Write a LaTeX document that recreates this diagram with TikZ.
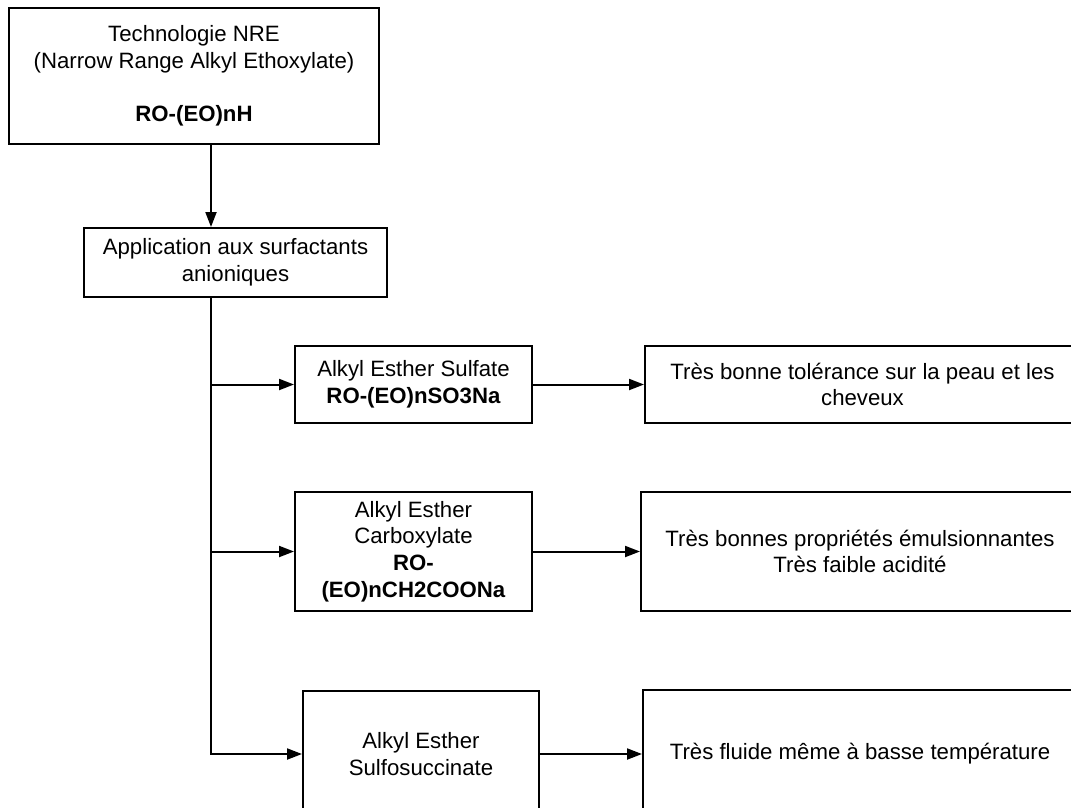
\documentclass[tikz,border=0pt]{standalone}
\usepackage{fontspec}
\setmainfont{Liberation Sans}
\usepackage{tikz}
\usetikzlibrary{arrows.meta}

\begin{document}
\begin{tikzpicture}[
    x=1pt, y=-1pt,
    box/.style={draw,line width=2pt,align=center,inner sep=0pt,
      font=\fontsize{22.2}{26.7}\selectfont},
    link/.style={line width=2pt,-{Triangle[length=15pt,width=11pt]}}
    ]
    \useasboundingbox (0,0) rectangle (1071,807);
    \clip (0,0) rectangle (1071,807);
    \node[box,minimum width=370,minimum height=136] (nre) at (194,76)
      {Technologie NRE\\(Narrow Range Alkyl Ethoxylate)\\~\\\textbf{RO-(EO)nH}};
    \node[box,minimum width=303,minimum height=69] (appl) at (235.5,262.5)
      {Application aux surfactants\\anioniques};
    \node[box,minimum width=237,minimum height=77] (sulfate) at (413.5,384.5)
      {Alkyl Esther Sulfate\\\textbf{RO-(EO)nSO3Na}};
    \node[box,minimum width=435,minimum height=77] (peau) at (862.5,384.5)
      {Très bonne tolérance sur la peau et les\\cheveux};
    \node[box,minimum width=237,minimum height=119] (carbox) at (413.5,551.5)
      {Alkyl Esther\\Carboxylate\\\textbf{RO-}\\\textbf{(EO)nCH2COONa}};
    \node[box,minimum width=438,minimum height=119] (emuls) at (860,551.5)
      {Très bonnes propriétés émulsionnantes\\Très faible acidité};
    \node[box,minimum width=236,minimum height=126] (sulfo) at (421,754)
      {Alkyl Esther\\Sulfosuccinate};
    \node[box,minimum width=434,minimum height=128] (fluide) at (860,754)
      {Très fluide même à basse température};
    \coordinate (trunk) at (211,0);
    \draw[link] (nre.south -| trunk) -- (appl.north -| trunk);
    \draw[link] (appl.south -| trunk) -- (trunk |- sulfo.west) -- (sulfo.west);
    \draw[link] (trunk |- sulfate.west) -- (sulfate.west);
    \draw[link] (trunk |- carbox.west) -- (carbox.west);
    \draw[link] (sulfate.east) -- (peau.west);
    \draw[link] (carbox.east) -- (emuls.west);
    \draw[link] (sulfo.east) -- (fluide.west);
\end{tikzpicture}
\end{document}
